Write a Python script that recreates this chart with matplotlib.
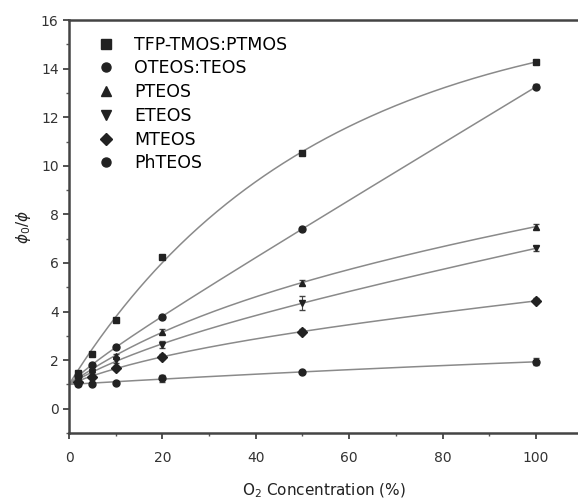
import numpy as np
import matplotlib
matplotlib.use("Agg")
import matplotlib.pyplot as plt
from matplotlib.ticker import MultipleLocator

# concentracion de O2 (%)
o2 = [0, 2, 5, 10, 20, 50, 100]

nombres = ["TFP-TMOS:PTMOS", "OTEOS:TEOS", "PTEOS", "ETEOS", "MTEOS", "PhTEOS"]
marcadores = ["s", "o", "^", "v", "D", "o"]

tfp = [1.0, 1.48, 2.26, 3.66, 6.25, 10.53, 14.28]
oteos = [1.0, 1.35, 1.81, 2.55, 3.79, 7.41, 13.25]
pteos = [1.0, 1.25, 1.65, 2.18, 3.17, 5.19, 7.50]
eteos = [1.0, 1.20, 1.50, 2.00, 2.63, 4.36, 6.60]
mteos = [1.0, 1.10, 1.32, 1.69, 2.14, 3.17, 4.44]
phteos = [1.0, 1.00, 1.03, 1.07, 1.25, 1.52, 1.93]

err_tfp = [0, 0.05, 0.05, 0.05, 0.08, 0.08, 0.08]
err_oteos = [0, 0.05, 0.08, 0.08, 0.08, 0.08, 0.1]
err_pteos = [0, 0.05, 0.05, 0.08, 0.1, 0.1, 0.1]
err_eteos = [0, 0.05, 0.05, 0.1, 0.15, 0.3, 0.1]
err_mteos = [0, 0.05, 0.05, 0.08, 0.1, 0.1, 0.1]
err_phteos = [0, 0.05, 0.05, 0.05, 0.15, 0.05, 0.15]

series = [tfp, oteos, pteos, eteos, mteos, phteos]
errores = [err_tfp, err_oteos, err_pteos, err_eteos, err_mteos, err_phteos]


def ajuste(x, y):
    # ajuste y = 1 + a*x/(1+b*x) + c*x, b por busqueda en grilla
    x = np.asarray(x, float)
    y = np.asarray(y, float)
    mejor = None
    for b in np.linspace(0, 0.3, 301):
        A = np.column_stack([x / (1 + b * x), x])
        coef, *_ = np.linalg.lstsq(A, y - 1, rcond=None)
        r = np.sum((A @ coef - (y - 1)) ** 2)
        if mejor is None or r < mejor[0]:
            mejor = (r, b, coef)
    _, b, coef = mejor
    xx = np.linspace(0, 100, 300)
    return xx, 1 + coef[0] * xx / (1 + b * xx) + coef[1] * xx


fig = plt.figure(figsize=(5.78, 5.01), dpi=100)
ax = fig.add_axes([0.1194, 0.1357, 0.8806, 0.8243])

for nom, mk, y, e in zip(nombres, marcadores, series, errores):
    xx, yy = ajuste(o2, y)
    ax.plot(xx, yy, color="#8a8a8a", lw=1.1, zorder=1)
    ax.errorbar(o2[1:], y[1:], yerr=e[1:], fmt="none", ecolor="#444444",
                elinewidth=0.8, capsize=2, zorder=2)
    ax.plot(o2[1:], y[1:], mk, color="#222222", ms=5, ls="none", label=nom, zorder=3)

ax.set_xlim(0, 109)
ax.set_ylim(-1, 16)
ax.xaxis.set_major_locator(MultipleLocator(20))
ax.xaxis.set_minor_locator(MultipleLocator(10))
ax.yaxis.set_major_locator(MultipleLocator(2))
ax.yaxis.set_minor_locator(MultipleLocator(1))
ax.tick_params(which="major", direction="out", length=4, width=1.2,
               labelsize=10, colors="#333333")
ax.tick_params(axis="x", which="major", pad=9)
ax.tick_params(which="minor", direction="out", length=2.5, width=1, colors="#555555")

for lado in ["left", "bottom", "top"]:
    ax.spines[lado].set_linewidth(1.8)
    ax.spines[lado].set_color("#444444")
ax.spines["right"].set_visible(False)

ax.set_xlabel("O$_2$ Concentration (%)", fontsize=11, color="#222222", labelpad=12)
ax.set_ylabel(r"$\phi_0/\phi$", fontsize=11, color="#222222", labelpad=6)

ax.legend(loc="upper left", frameon=False, fontsize=12.5, handlelength=1.0,
          handletextpad=1.1, labelspacing=0.33, borderaxespad=0.5,
          markerscale=1.3, bbox_to_anchor=(0.0255, 1.0))

fig.savefig("out.png", dpi=100)
